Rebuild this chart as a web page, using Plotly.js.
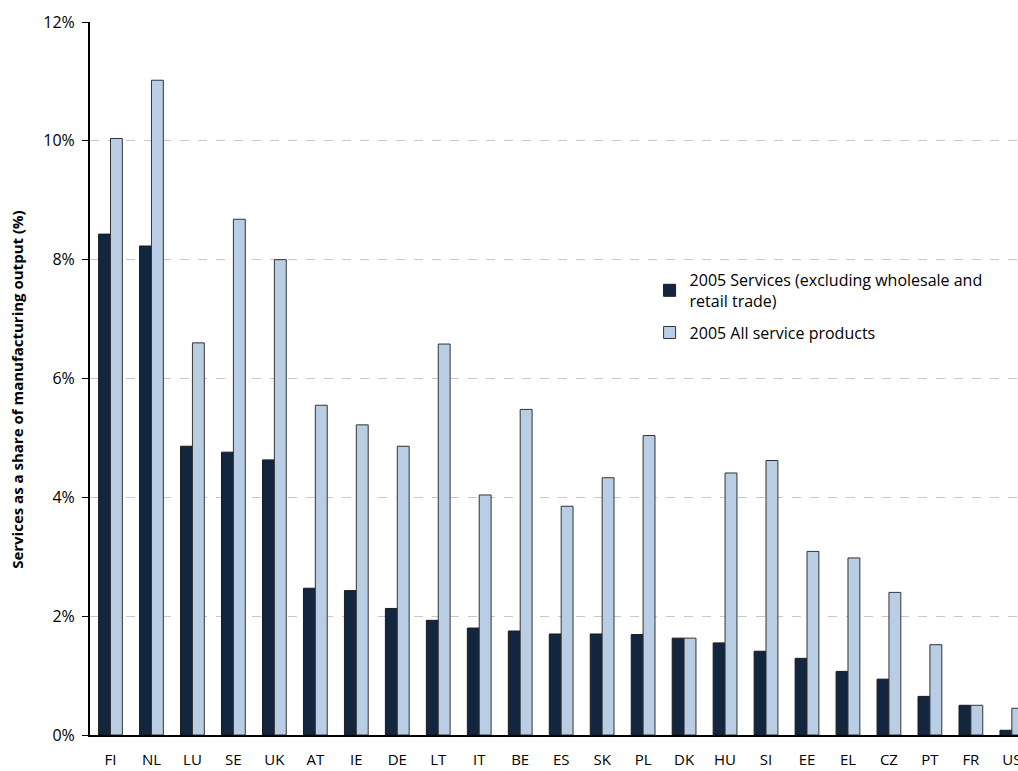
<!DOCTYPE html>
<html>
<head>
<meta charset="utf-8">
<script src="https://cdn.plot.ly/plotly-3.0.1.min.js"></script>
<style>
html,body{margin:0;padding:0;overflow:hidden;background:#fff;}
#chart{width:1018px;height:771px;}
</style>
</head>
<body>
<div id="chart"></div>
<script>
var countries = ["FI","NL","LU","SE","UK","AT","IE","DE","LT","IT","BE","ES","SK","PL","DK","HU","SI","EE","EL","CZ","PT","FR","US"];
var servicesExclTrade = [8.43,8.23,4.86,4.76,4.63,2.47,2.43,2.13,1.93,1.80,1.75,1.70,1.70,1.69,1.63,1.55,1.41,1.29,1.07,0.94,0.65,0.50,0.08];
var allServiceProducts = [10.04,11.02,6.60,8.68,8.00,5.55,5.22,4.86,6.58,4.04,5.48,3.85,4.33,5.04,1.63,4.41,4.62,3.09,2.98,2.40,1.52,0.50,0.45];
var seriesNames = ["2005 Services (excluding wholesale and<br>retail trade)", "2005 All service products"];
var yTicks = [0,2,4,6,8,10,12];
var yTickLabels = ["0%","2%","4%","6%","8%","10%","12%"];
var yTitle = "Services as a share of manufacturing output (%)";

var traces = [
  {type:"bar", x:countries, y:servicesExclTrade, name:seriesNames[0], legendgroup:"a",
   marker:{color:"#13263f", line:{color:"#1a1a1a", width:1}}},
  {type:"bar", x:countries, y:allServiceProducts, name:seriesNames[1], legendgroup:"b",
   marker:{color:"#b9cde4", line:{color:"#333333", width:1}}}
];

var layout = {
  width:1018, height:771,
  margin:{l:90, r:0, t:22, b:36},
  paper_bgcolor:"#fff", plot_bgcolor:"#fff",
  barmode:"group", bargap:0.42, bargroupgap:0,
  showlegend:true,
  legend:{x:0.603, y:0.662, xanchor:"left", yanchor:"top", traceorder:"grouped",
          font:{family:"Open Sans", size:16, color:"#000"},
          bgcolor:"rgba(0,0,0,0)", tracegroupgap:8, itemwidth:30},
  xaxis:{type:"category", range:[-0.5, 22.15], showline:true, linecolor:"#000", linewidth:2,
         ticks:"", showgrid:false, zeroline:false, ticklabelstandoff:10,
         tickfont:{family:"Open Sans", size:15, color:"#000"}, fixedrange:true},
  yaxis:{range:[0,12], tickvals:yTicks, ticktext:yTickLabels, showline:true, linecolor:"#000", linewidth:2,
         ticks:"outside", ticklen:6, tickcolor:"#000", tickwidth:1, ticklabelstandoff:4,
         showgrid:true, gridcolor:"#c8c8c8", griddash:"dash", gridwidth:1, zeroline:false,
         tickfont:{family:"Open Sans", size:16, color:"#000"}, fixedrange:true},
  annotations:[{xref:"paper", yref:"paper", x:-0.0787, y:0.484, xanchor:"center", yanchor:"middle",
                text:"<b>"+yTitle+"</b>", textangle:-90, showarrow:false,
                font:{family:"Open Sans", size:15, color:"#000"}}]
};

Plotly.newPlot("chart", traces, layout, {displayModeBar:false, staticPlot:true});
</script>
</body>
</html>
